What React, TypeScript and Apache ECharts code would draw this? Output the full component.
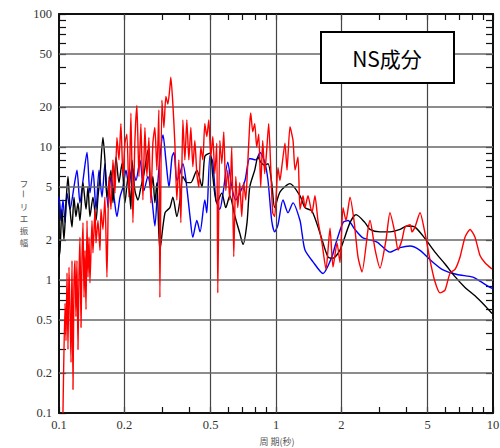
import React, { useEffect, useRef } from "react";
import * as echarts from "echarts";

const xLabels = [0.1, 0.2, 0.5, 1, 2, 5, 10];
const yLabels = [0.1, 0.2, 0.5, 1, 2, 5, 10, 20, 50, 100];
const xGrid = [0.2, 0.5, 1, 2, 5];
const yGrid = [0.2, 0.5, 1, 2, 5, 10, 20, 50];
const xTicks = [0.1, 0.2, 0.3, 0.4, 0.5, 0.6, 0.7, 0.8, 0.9, 1, 2, 3, 4, 5, 6, 7, 8, 9, 10];
const yTicks = [0.1, 0.2, 0.3, 0.4, 0.5, 0.6, 0.7, 0.8, 0.9, 1, 2, 3, 4, 5, 6, 7, 8, 9, 10, 20, 30, 40, 50, 60, 70, 80, 90, 100];

const blueT = [0.1, 0.1011, 0.1021, 0.1043, 0.1066, 0.1089, 0.1124, 0.1172, 0.121, 0.1249, 0.129, 0.1346, 0.1389, 0.1434, 0.1481, 0.1529, 0.1578, 0.1628, 0.1682, 0.1735, 0.1793, 0.1849, 0.191, 0.1971, 0.2036, 0.21, 0.2168, 0.2263, 0.2362, 0.2462, 0.2568, 0.2683, 0.2766, 0.2859, 0.2951, 0.3015, 0.3108, 0.3213, 0.3317, 0.3388, 0.3492, 0.3605, 0.3722, 0.3847, 0.4016, 0.4138, 0.4317, 0.4466, 0.4699, 0.4799, 0.4966, 0.5114, 0.5289, 0.5508, 0.57, 0.5995, 0.6254, 0.6525, 0.6807, 0.7197, 0.7568, 0.8088, 0.8438, 0.8871, 0.9187, 0.9553, 0.9862, 1.021, 1.077, 1.136, 1.198, 1.29, 1.318, 1.36, 1.481, 1.647, 1.812, 1.871, 2.036, 2.147, 2.31, 2.518, 2.921, 3.35, 3.73, 4.15, 4.61, 5.13, 5.885, 6.825, 8.089, 8.71, 9.69, 10];
const blueA = [4.2, 3.6, 2.8, 4.0, 2.7, 4.5, 3.4, 5.0, 6.7, 3.8, 5.6, 9.1, 4.5, 6.7, 3.4, 6.7, 4.2, 7.5, 3.5, 6.0, 4.2, 3.0, 4.2, 5.0, 6.7, 5.0, 7.1, 5.6, 8.0, 4.7, 6.0, 4.0, 2.55, 5.6, 10, 12.3, 8.0, 5.0, 8.4, 9.1, 5.6, 6.3, 7.5, 5.6, 3.0, 2.1, 2.8, 2.3, 4.0, 3.2, 8.7, 7.7, 4.0, 3.4, 4.5, 7.7, 5.0, 4.0, 4.5, 5.6, 8.2, 8.0, 9.1, 7.7, 5.6, 2.8, 2.3, 2.6, 4.0, 3.2, 3.8, 2.8, 2.25, 1.68, 1.37, 1.12, 1.5, 1.8, 2.7, 2.8, 2.4, 2.07, 1.93, 1.62, 1.75, 1.8, 1.67, 1.42, 1.19, 1.1, 1.05, 0.98, 0.88, 0.86];

const blackT = [0.1, 0.1011, 0.1032, 0.1054, 0.1077, 0.11, 0.1124, 0.1148, 0.1172, 0.1197, 0.1223, 0.1249, 0.129, 0.1332, 0.136, 0.1389, 0.1434, 0.1481, 0.1512, 0.1545, 0.1594, 0.1628, 0.1663, 0.1735, 0.1773, 0.1831, 0.1889, 0.195, 0.2013, 0.208, 0.2145, 0.2169, 0.2238, 0.2312, 0.2385, 0.2464, 0.2572, 0.2651, 0.2708, 0.2766, 0.2825, 0.2917, 0.3079, 0.3243, 0.3348, 0.3492, 0.3611, 0.3722, 0.3883, 0.4051, 0.4317, 0.456, 0.4699, 0.4966, 0.5114, 0.5335, 0.5626, 0.5869, 0.6123, 0.6471, 0.6807, 0.7046, 0.7352, 0.7568, 0.798, 0.8262, 0.8503, 0.8871, 0.9187, 0.9553, 0.9862, 1.044, 1.16, 1.29, 1.36, 1.465, 1.595, 1.736, 1.831, 1.972, 2.193, 2.338, 2.57, 2.712, 3.015, 3.35, 3.73, 4.015, 4.371, 4.861, 5.404, 6.011, 6.681, 7.43, 8.262, 9.186, 9.895];
const blackA = [1.5, 1.67, 3.4, 2.0, 3.8, 6.0, 3.4, 2.5, 4.2, 3.0, 3.8, 2.8, 5.4, 3.4, 5.0, 3.0, 4.2, 2.8, 4.2, 6.0, 11.8, 8.0, 4.2, 6.7, 3.8, 8.4, 5.4, 7.5, 3.8, 6.0, 3.4, 8.0, 4.7, 4.0, 5.0, 6.3, 9.5, 4.7, 6.0, 3.8, 5.4, 1.67, 3.2, 3.5, 4.2, 3.0, 4.0, 6.0, 5.4, 5.4, 6.7, 5.0, 8.5, 9.0, 6.0, 3.8, 4.5, 3.5, 4.3, 3.0, 2.25, 1.85, 2.7, 5.0, 6.7, 8.4, 7.7, 7.3, 7.5, 5.4, 3.5, 4.6, 5.3, 4.3, 3.5, 3.3, 2.25, 1.49, 1.46, 1.68, 2.7, 3.1, 2.7, 2.4, 2.3, 2.3, 2.4, 2.55, 2.5, 2.05, 1.62, 1.32, 1.06, 0.88, 0.76, 0.64, 0.56];

const redT = [0.1043, 0.1066, 0.1077, 0.1089, 0.11, 0.1112, 0.1124, 0.1136, 0.1148, 0.116, 0.1172, 0.1185, 0.1197, 0.121, 0.1223, 0.1236, 0.1249, 0.1263, 0.1276, 0.129, 0.1304, 0.1318, 0.1332, 0.1346, 0.136, 0.1375, 0.1389, 0.1419, 0.1434, 0.1465, 0.1481, 0.1512, 0.1545, 0.1561, 0.1594, 0.1628, 0.1663, 0.1699, 0.1735, 0.1773, 0.1811, 0.1849, 0.1889, 0.1929, 0.1971, 0.2013, 0.2056, 0.21, 0.2145, 0.2191, 0.2238, 0.2286, 0.2335, 0.2385, 0.2436, 0.2488, 0.2541, 0.2596, 0.2651, 0.2708, 0.2766, 0.2825, 0.2886, 0.2917, 0.2979, 0.3043, 0.3108, 0.3175, 0.3243, 0.3277, 0.3348, 0.3419, 0.3492, 0.3567, 0.3644, 0.3722, 0.3801, 0.3883, 0.3966, 0.4051, 0.4138, 0.4226, 0.4317, 0.4409, 0.4504, 0.46, 0.4699, 0.4799, 0.4902, 0.5007, 0.5114, 0.5224, 0.5335, 0.5392, 0.5508, 0.5626, 0.5746, 0.5869, 0.5995, 0.6123, 0.6254, 0.6388, 0.6525, 0.6665, 0.6807, 0.6953, 0.7102, 0.7254, 0.7409, 0.7568, 0.7648, 0.7812, 0.798, 0.815, 0.8325, 0.8503, 0.8685, 0.8871, 0.9061, 0.9255, 0.9453, 0.9655, 0.9862, 1.021, 1.043, 1.066, 1.1, 1.124, 1.16, 1.198, 1.224, 1.263, 1.29, 1.332, 1.36, 1.404, 1.465, 1.512, 1.561, 1.629, 1.7, 1.774, 1.831, 1.911, 1.972, 2.036, 2.102, 2.193, 2.288, 2.387, 2.491, 2.655, 2.712, 2.86, 3.015, 3.213, 3.35, 3.535, 3.649, 3.807, 3.93, 4.15, 4.234, 4.371, 4.61, 4.861, 5.13, 5.404, 5.7, 6.011, 6.34, 6.681, 7.05, 7.43, 7.84, 8.262, 8.71, 9.186, 9.895];
const redA = [0.1, 0.67, 0.35, 1.13, 0.3, 1.25, 0.6, 0.24, 1.4, 0.15, 0.89, 1.4, 0.53, 1.4, 0.3, 1.05, 2.1, 0.44, 1.4, 2.7, 0.74, 1.67, 0.6, 2.8, 1.05, 2.1, 0.95, 2.8, 1.6, 3.4, 1.9, 2.8, 1.67, 3.4, 2.4, 4.2, 1.05, 6.0, 3.4, 8.0, 4.5, 11.8, 8.0, 15, 6.0, 10.7, 12.5, 4.2, 18, 2.7, 11.2, 20.5, 6.0, 15, 4.0, 14, 6.0, 11.8, 3.8, 10.7, 14, 6.7, 19, 0.74, 22.5, 14, 24, 21, 28, 33.5, 21, 10.7, 4.0, 8.0, 2.7, 16, 8, 16, 8, 14, 7.1, 11.2, 6.3, 5.0, 10, 8, 15, 12, 16, 8.4, 12, 6.3, 10.7, 0.8, 11.2, 7.5, 13, 4.7, 6.7, 4.0, 10, 1.5, 6.0, 3.5, 5.4, 3.0, 5.4, 4.0, 7.5, 15, 18, 13, 15, 10, 12.5, 5.0, 11.2, 6.3, 9.5, 15, 7.1, 3.2, 3.0, 7, 5.6, 7.3, 10.7, 6.7, 14.2, 11.2, 6.7, 8.4, 3.4, 4.3, 3.5, 4.3, 3.2, 4.3, 2.8, 1.9, 1.2, 2.45, 1.25, 1.9, 1.35, 3.5, 2.8, 4.2, 2.8, 1.49, 1.15, 2.4, 2.8, 1.7, 1.23, 2.0, 3.2, 2.25, 1.68, 2.0, 2.5, 2.6, 2.3, 2.5, 3.2, 2.25, 1.4, 0.97, 0.8, 0.84, 1.13, 1.2, 1.49, 2.1, 2.4, 2.1, 1.53, 1.35, 1.21];

const zip = (t: number[], a: number[]) => t.map((v, i) => [v, a[i]]);
const fmt = (v: any) => String(parseFloat(Number(v).toPrecision(3)));

export default function App() {
  const ref = useRef<HTMLDivElement>(null);
  useEffect(() => {
    if (!ref.current) return;
    const chart = echarts.init(ref.current, undefined, { renderer: "svg" });
    const labelFont = { fontFamily: "Liberation Serif", fontSize: 12.5, color: "#333" };
    const gridLine = (c: string, w: number) => ({ color: c, width: w, type: "solid" });
    const common = {
      type: "log",
      logBase: 10,
      splitLine: { show: false },
      minorTick: { show: false },
      axisLine: { show: true, lineStyle: { color: "#111", width: 2 } },
    };
    const yName = [
      { t: "フ", y: 183, r: 0 },
      { t: "ー", y: 194, r: -Math.PI / 2 },
      { t: "リ", y: 206, r: 0 },
      { t: "エ", y: 218, r: 0 },
      { t: "振", y: 230, r: 0 },
      { t: "幅", y: 242, r: 0 },
    ];
    chart.setOption({
      animation: false,
      backgroundColor: "#fff",
      grid: { left: 59, top: 14, width: 434, height: 399, containLabel: false, outerBoundsMode: "none" },
      xAxis: [
        {
          ...common,
          min: 0.1,
          max: 10,
          position: "bottom",
          axisTick: { show: true, inside: true, length: 6, customValues: xTicks, lineStyle: { color: "#111", width: 1.2 } },
          axisLabel: { ...labelFont, margin: 5, customValues: xLabels, formatter: fmt, showMinLabel: true, showMaxLabel: true },
        },
        {
          ...common,
          min: 0.1,
          max: 10,
          position: "top",
          axisTick: { show: true, inside: true, length: 6, customValues: xTicks, lineStyle: { color: "#111", width: 1.2 } },
          axisLabel: { show: false },
        },
      ],
      yAxis: [
        {
          ...common,
          min: 0.1,
          max: 100,
          position: "left",
          axisTick: { show: true, inside: true, length: 7, customValues: yTicks, lineStyle: { color: "#111", width: 1.2 } },
          axisLabel: { ...labelFont, margin: 7, customValues: yLabels, formatter: fmt, showMinLabel: true, showMaxLabel: true },
        },
        {
          ...common,
          min: 0.1,
          max: 100,
          position: "right",
          axisTick: { show: true, inside: true, length: 7, customValues: yTicks, lineStyle: { color: "#111", width: 1.2 } },
          axisLabel: { show: false },
        },
      ],
      series: [
        {
          type: "line",
          name: "grid",
          data: [[1, 1]],
          symbol: "none",
          lineStyle: { opacity: 0 },
          z: 1,
          silent: true,
          markLine: {
            silent: true,
            symbol: ["none", "none"],
            label: { show: false },
            data: [
              ...xGrid.map((v) => ({ xAxis: v, lineStyle: gridLine("#444", 1.2) })),
              ...yGrid.map((v) => ({ yAxis: v, lineStyle: gridLine("#666", 1.6) })),
            ],
          },
        },
        {
          type: "line",
          name: "blue",
          data: zip(blueT, blueA),
          symbol: "none",
          smooth: 0.25,
          lineStyle: { color: "#0000ff", width: 1.4 },
          z: 3,
        },
        {
          type: "line",
          name: "black",
          data: zip(blackT, blackA),
          symbol: "none",
          smooth: 0.25,
          lineStyle: { color: "#000000", width: 1.4 },
          z: 4,
        },
        {
          type: "line",
          name: "red",
          data: zip(redT, redA),
          symbol: "none",
          smooth: 0.2,
          lineStyle: { color: "#ff0000", width: 1.4 },
          z: 5,
        },
      ],
      graphic: [
        {
          type: "rect",
          z: 100,
          shape: { x: 321, y: 32, width: 133, height: 51 },
          style: { fill: "#fff", stroke: "#000", lineWidth: 2 },
        },
        {
          type: "text",
          z: 101,
          x: 387,
          y: 58,
          style: { text: "NS成分", fontSize: 21, fontFamily: "Noto Sans CJK JP", fill: "#000", align: "center", verticalAlign: "middle", textAlign: "center", textVerticalAlign: "middle" },
        },
        ...yName.map((c) => ({
          type: "text",
          z: 101,
          x: 24,
          y: c.y,
          rotation: c.r,
          style: { text: c.t, fontSize: 8.5, lineHeight: 9, fontFamily: "Noto Sans CJK JP", fill: "#555", align: "center", verticalAlign: "middle", textAlign: "center", textVerticalAlign: "middle" },
        })),
        {
          type: "text",
          z: 101,
          x: 277,
          y: 441,
          style: { text: "周 期(秒)", fontSize: 9, fontFamily: "Noto Sans CJK JP", fill: "#555", align: "center", verticalAlign: "middle", textAlign: "center", textVerticalAlign: "middle" },
        },
      ],
    });
    return () => chart.dispose();
  }, []);
  return <div ref={ref} style={{ position: "absolute", left: 0, top: 0, width: 500, height: 448 }} />;
}
